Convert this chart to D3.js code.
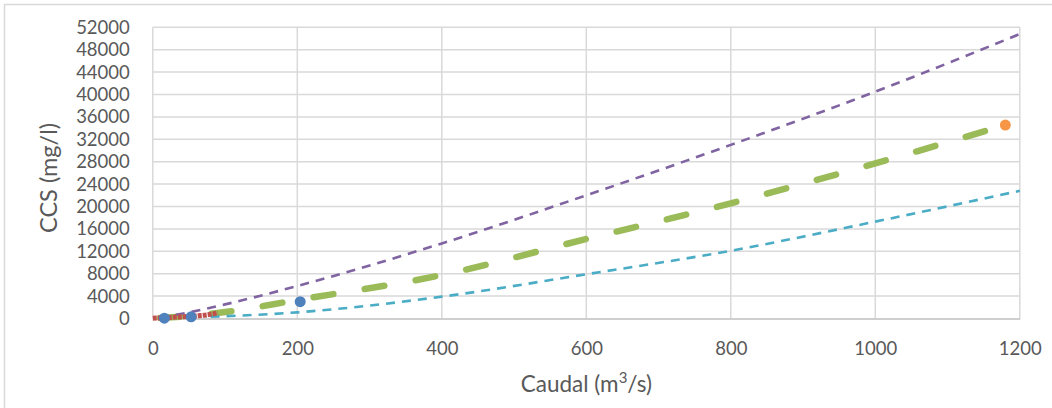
<!DOCTYPE html>
<html>
<head>
<meta charset="utf-8">
<script src="https://cdn.jsdelivr.net/npm/d3@7"></script>
<style>
  body { margin: 0; background: #fff; }
  text { font-family: Lato, "Open Sans", sans-serif; fill: #595959; }
</style>
</head>
<body>
<div id="chart"></div>
<script>
// values
const xTicks = [0, 200, 400, 600, 800, 1000, 1200];
const yTicks = [0, 4000, 8000, 12000, 16000, 20000, 24000, 28000, 32000, 36000, 40000, 44000, 48000, 52000];

const purpleX = [10, 50, 100, 200, 400, 600, 800, 1000, 1200];
const purpleY = [200, 1090, 2520, 5800, 13400, 22000, 31000, 40500, 50800];

const greenX = [10, 50, 100, 200, 400, 600, 800, 1000, 1180];
const greenY = [100, 420, 1150, 3300, 7770, 14200, 20570, 27700, 34550];

const cyanX = [80, 200, 400, 600, 800, 1000, 1200];
const cyanY = [300, 1100, 3900, 7900, 12100, 17300, 22800];

const redX = [0, 20, 40, 60, 75, 90];
const redY = [50, 150, 300, 450, 650, 1000];

const blueX = [16, 53, 204];
const blueY = [50, 300, 3000];

const orangeX = [1180];
const orangeY = [34550];

const W = 1052, H = 408;
const margin = { top: 27.3, right: 32.2, bottom: 89.5, left: 152.8 };

const svg = d3.select("#chart").append("svg")
  .attr("width", W)
  .attr("height", H);

// outer chart frame (only top and left visible in the crop)
svg.append("line").attr("x1", 4).attr("x2", W).attr("y1", 4.5).attr("y2", 4.5)
  .attr("stroke", "#d9d9d9").attr("stroke-width", 1.5);
svg.append("line").attr("x1", 4.5).attr("x2", 4.5).attr("y1", 4).attr("y2", H)
  .attr("stroke", "#d9d9d9").attr("stroke-width", 1.5);

const x = d3.scaleLinear().domain([0, 1200]).range([margin.left, W - margin.right]);
const y = d3.scaleLinear().domain([0, 52000]).range([H - margin.bottom, margin.top]);

// grid
const grid = svg.append("g");
grid.selectAll(".h").data(yTicks.slice(1)).enter().append("line")
  .attr("x1", x(0)).attr("x2", x(1200))
  .attr("y1", d => y(d)).attr("y2", d => y(d))
  .attr("stroke", "#d9d9d9").attr("stroke-width", 1.5);
grid.selectAll(".v").data(xTicks).enter().append("line")
  .attr("x1", d => x(d)).attr("x2", d => x(d))
  .attr("y1", y(0)).attr("y2", y(52000))
  .attr("stroke", "#d9d9d9").attr("stroke-width", 1.5);

// axes
const xAxis = svg.append("g")
  .attr("transform", `translate(0,${y(0)})`)
  .call(d3.axisBottom(x).tickValues(xTicks).tickSize(0).tickPadding(23).tickFormat(d3.format("d")));
xAxis.select(".domain").attr("stroke", "#bfbfbf").attr("stroke-width", 1.5);
xAxis.selectAll("text").style("font-size", "18.5px");

const yAxis = svg.append("g")
  .attr("transform", `translate(${x(0)},0)`)
  .call(d3.axisLeft(y).tickValues(yTicks).tickSize(0).tickPadding(23).tickFormat(d3.format("d")));
yAxis.select(".domain").remove();
yAxis.selectAll("text").style("font-size", "18.5px");

// axis titles
const xt = svg.append("text")
  .attr("x", x(600))
  .attr("y", 392)
  .attr("text-anchor", "middle")
  .style("font-size", "22.5px");
xt.append("tspan").text("Caudal (m");
xt.append("tspan").attr("dy", -9).style("font-size", "15px").text("3");
xt.append("tspan").attr("dy", 9).text("/s)");

svg.append("text")
  .attr("transform", `translate(57,178) rotate(-90)`)
  .attr("text-anchor", "middle")
  .style("font-size", "23.5px")
  .text("CCS (mg/l)");

const line = d3.line().x(d => x(d[0])).y(d => y(d[1])).curve(d3.curveMonotoneX);
const zip = (a, b) => a.map((v, i) => [v, b[i]]);

// series
svg.append("path").datum(zip(greenX, greenY))
  .attr("d", line).attr("fill", "none")
  .attr("stroke", "#9bbb59").attr("stroke-width", 6.5)
  .attr("stroke-linecap", "round").attr("stroke-dasharray", "20,31.7");

svg.append("path").datum(zip(cyanX, cyanY))
  .attr("d", line).attr("fill", "none")
  .attr("stroke", "#4bacc6").attr("stroke-width", 2.6)
  .attr("stroke-dasharray", "9,7");

svg.append("path").datum(zip(purpleX, purpleY))
  .attr("d", line).attr("fill", "none")
  .attr("stroke", "#8064a2").attr("stroke-width", 2.6)
  .attr("stroke-dasharray", "9,7");

svg.append("path").datum(zip(redX, redY))
  .attr("d", line).attr("fill", "none")
  .attr("stroke", "#c0504d").attr("stroke-width", 5)
  .attr("stroke-dasharray", "4,1");

svg.selectAll(".blue").data(zip(blueX, blueY)).enter().append("circle")
  .attr("cx", d => x(d[0])).attr("cy", d => y(d[1])).attr("r", 5.5)
  .attr("fill", "#4f81bd");

svg.selectAll(".orange").data(zip(orangeX, orangeY)).enter().append("circle")
  .attr("cx", d => x(d[0])).attr("cy", d => y(d[1])).attr("r", 5.5)
  .attr("fill", "#f79646");
</script>
</body>
</html>
